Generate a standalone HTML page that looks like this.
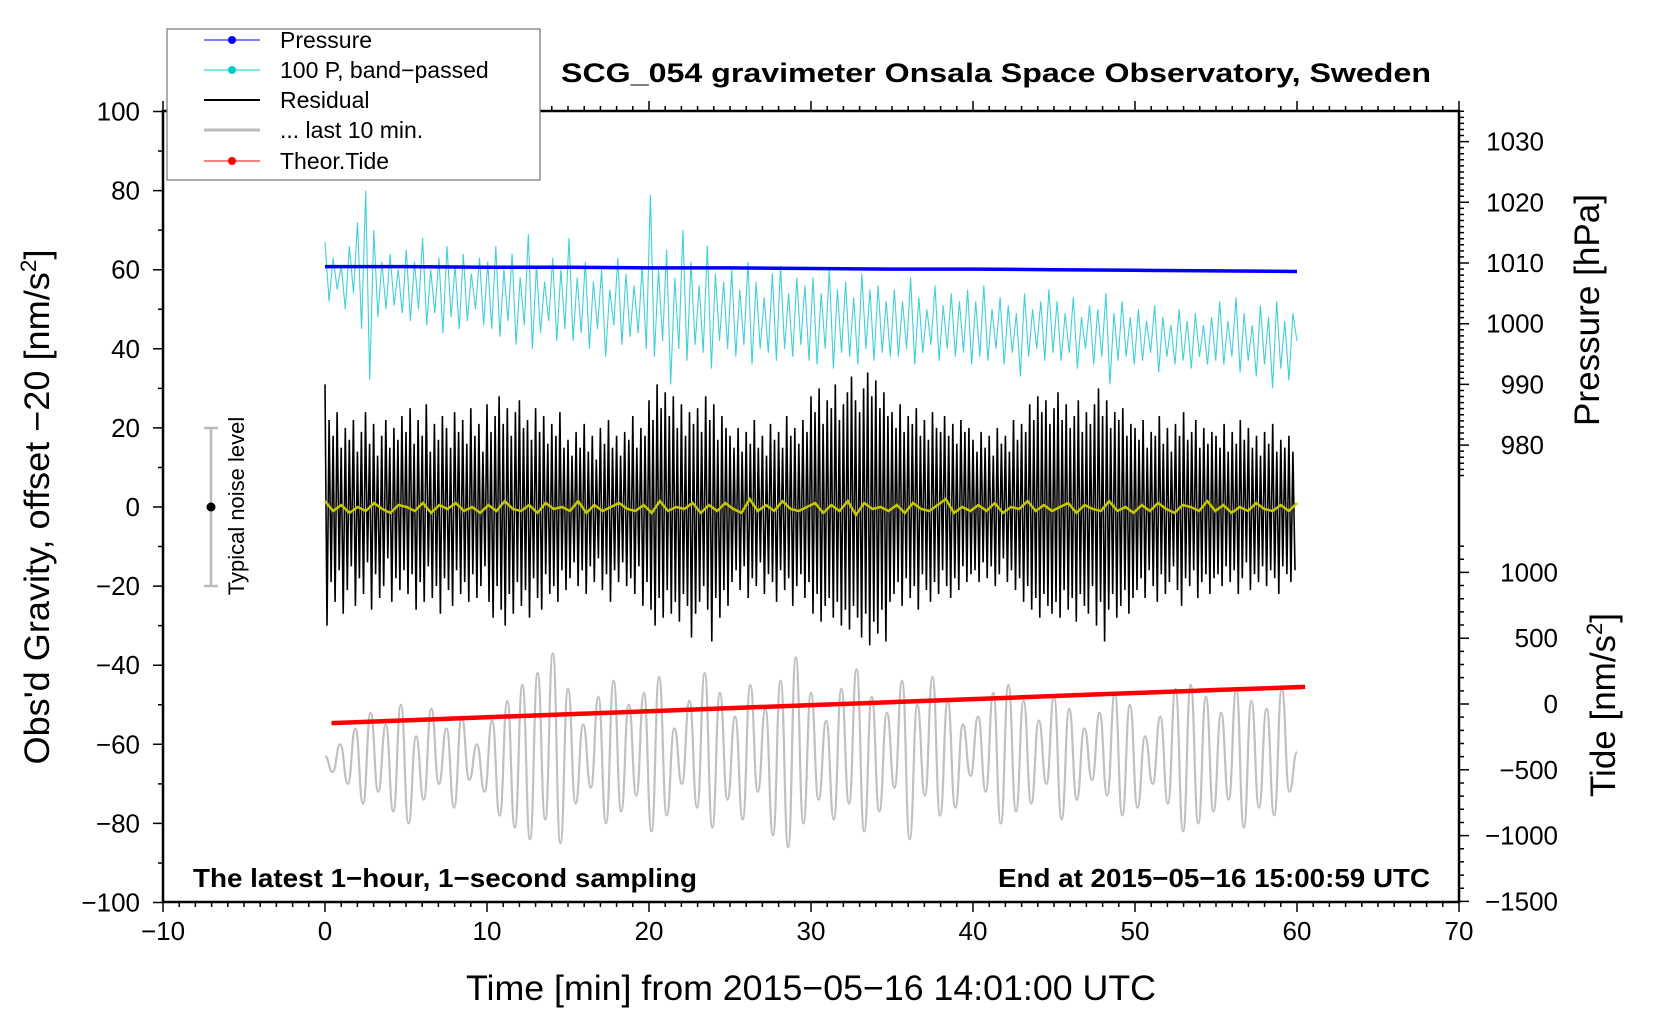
<!DOCTYPE html>
<html><head><meta charset="utf-8"><style>
html,body{margin:0;padding:0;background:#fff}
svg{display:block;font-family:"Liberation Sans",Arial,sans-serif}
</style></head><body>
<svg id="chart" width="1660" height="1020" viewBox="0 0 1660 1020" xmlns="http://www.w3.org/2000/svg">
<rect width="1660" height="1020" fill="#fff"/>
<g id="series"></g>
<g id="axes"></g>
<text x="996" y="82" font-size="27" font-weight="bold" text-anchor="middle" textLength="870" lengthAdjust="spacingAndGlyphs">SCG_054 gravimeter Onsala Space Observatory, Sweden</text>
<text x="811" y="1000" font-size="35" text-anchor="middle" textLength="690" lengthAdjust="spacingAndGlyphs">Time [min] from 2015−05−16 14:01:00 UTC</text>
<text transform="translate(49,507) rotate(-90)" font-size="35" text-anchor="middle" textLength="515" lengthAdjust="spacingAndGlyphs">Obs'd Gravity, offset −20 [nm/s<tspan font-size="22" dy="-13">2</tspan><tspan dy="13">]</tspan></text>
<text transform="translate(1599,310) rotate(-90)" font-size="35" text-anchor="middle" textLength="232" lengthAdjust="spacingAndGlyphs">Pressure [hPa]</text>
<text transform="translate(1615,705) rotate(-90)" font-size="35" text-anchor="middle">Tide [nm/s<tspan font-size="22" dy="-13">2</tspan><tspan dy="13">]</tspan></text>
<text x="193" y="887" font-size="26" font-weight="bold" textLength="504" lengthAdjust="spacingAndGlyphs">The latest 1−hour, 1−second sampling</text>
<text x="1430" y="887" font-size="26" font-weight="bold" text-anchor="end" textLength="432" lengthAdjust="spacingAndGlyphs">End at 2015−05−16 15:00:59 UTC</text>
<g>
<line x1="211" y1="428" x2="211" y2="586" stroke="#bbb" stroke-width="2.5"/>
<line x1="204" y1="428" x2="218" y2="428" stroke="#bbb" stroke-width="2.5"/>
<line x1="204" y1="586" x2="218" y2="586" stroke="#bbb" stroke-width="2.5"/>
<circle cx="211" cy="507" r="4.5" fill="#000"/>
<text transform="translate(244,506) rotate(-90)" font-size="22" text-anchor="middle">Typical noise level</text>
</g>
<g>
<rect x="167" y="29" width="373" height="151" fill="#fff" stroke="#808080" stroke-width="1.3"/>
<g><line x1="204" y1="40" x2="260" y2="40" stroke="#00f" stroke-width="1"/><circle cx="232" cy="40" r="4" fill="#00f"/><text x="280" y="48" font-size="23">Pressure</text></g>
<g><line x1="204" y1="70" x2="260" y2="70" stroke="#0cc" stroke-width="1"/><circle cx="232" cy="70" r="4" fill="#0cc"/><text x="280" y="78" font-size="23">100 P, band−passed</text></g>
<g><line x1="204" y1="100" x2="260" y2="100" stroke="#000" stroke-width="2"/><text x="280" y="108" font-size="23">Residual</text></g>
<g><line x1="204" y1="130" x2="260" y2="130" stroke="#bbb" stroke-width="3"/><text x="280" y="138" font-size="23">... last 10 min.</text></g>
<g><line x1="204" y1="161" x2="260" y2="161" stroke="#f00" stroke-width="1"/><circle cx="232" cy="161" r="4" fill="#f00"/><text x="280" y="169" font-size="23">Theor.Tide</text></g>
</g>
</svg>
<script>
const residualMax = [
31,22,18,24,15,20,17,22,14,19,24,16,21,13,18,22,15,20,17,23,
19,25,16,22,18,26,14,21,17,23,20,15,24,19,22,16,25,18,21,14,
26,19,23,28,21,25,18,24,27,20,22,17,25,19,23,16,21,18,24,15,
17,13,19,15,21,14,18,12,20,16,22,15,18,13,19,17,23,15,20,18,
27,22,31,25,29,23,28,20,26,18,24,21,25,19,28,22,26,17,23,20,
18,15,20,14,19,16,22,15,18,13,21,17,19,15,23,18,20,16,22,19,
28,24,30,21,27,25,31,22,26,29,33,27,24,30,34,28,32,25,29,23,
24,20,26,19,23,21,25,18,22,17,24,20,19,23,18,21,16,22,19,20,
17,14,19,15,18,13,20,16,18,14,22,17,21,19,26,22,28,24,27,21,
25,29,22,26,20,23,27,19,24,21,26,30,23,27,20,24,22,25,18,21,
20,17,22,15,19,18,23,16,20,14,21,18,24,17,19,22,15,20,16,19,
18,15,21,14,19,16,22,17,20,15,18,13,19,16,21,14,17,15,18,14];
const residualMin = [
-30,-19,-24,-16,-27,-21,-15,-25,-18,-22,-14,-26,-17,-23,-20,-13,-24,-18,-21,-16,
-22,-17,-26,-19,-24,-15,-23,-20,-27,-18,-21,-25,-16,-22,-19,-24,-17,-23,-20,-15,
-24,-28,-20,-26,-30,-22,-27,-19,-25,-21,-28,-18,-23,-26,-17,-22,-20,-24,-16,-21,
-18,-14,-20,-16,-22,-15,-19,-13,-21,-17,-24,-16,-19,-14,-20,-18,-22,-15,-25,-19,
-26,-30,-23,-28,-21,-27,-24,-29,-22,-25,-33,-27,-24,-20,-26,-34,-23,-28,-21,-25,
-19,-16,-21,-15,-23,-18,-20,-14,-22,-17,-19,-24,-16,-21,-18,-25,-20,-17,-23,-19,
-27,-22,-29,-25,-23,-28,-24,-30,-26,-31,-25,-28,-33,-27,-35,-29,-32,-26,-34,-24,
-22,-19,-25,-18,-23,-20,-26,-17,-21,-24,-19,-22,-16,-20,-23,-18,-21,-15,-19,-17,
-16,-19,-14,-18,-15,-20,-17,-13,-19,-16,-21,-18,-24,-20,-26,-23,-28,-22,-25,-27,
-24,-28,-21,-26,-23,-29,-22,-25,-27,-20,-30,-24,-34,-26,-22,-28,-25,-21,-27,-23,
-21,-18,-23,-16,-20,-24,-17,-22,-19,-15,-21,-25,-18,-20,-16,-23,-19,-17,-22,-18,
-17,-20,-15,-19,-16,-22,-18,-14,-21,-17,-19,-15,-20,-16,-18,-22,-15,-17,-19,-16];
const bandPassed = [
67,52,63,55,61,50,66,54,72,45,80,32,70,48,62,50,64,51,60,49,
65,47,62,50,68,46,60,49,63,44,66,48,61,45,64,47,59,50,63,46,
62,45,66,43,60,47,64,41,58,46,69,40,61,44,57,47,63,42,60,45,
68,42,58,44,62,40,57,45,60,38,55,46,63,41,59,43,56,44,61,40,
79,38,60,42,65,31,58,40,70,37,62,41,56,39,66,35,59,42,57,40,
60,38,55,41,62,36,57,40,53,39,59,37,61,40,54,38,58,41,56,37,
58,36,54,40,60,35,55,39,57,38,53,36,59,40,55,37,56,39,52,38,
55,38,52,40,58,36,53,39,50,41,56,37,51,40,54,38,52,39,55,36,
52,38,56,37,50,40,53,36,51,39,49,33,54,38,50,40,52,37,55,39,
52,37,49,39,53,35,48,40,51,36,50,38,54,31,49,37,52,38,48,36,
50,37,47,39,51,34,48,38,46,36,50,37,47,35,49,38,46,36,48,37,
52,36,47,38,53,34,49,37,46,33,51,36,48,30,52,35,47,32,49,42];
const last10min = [
-63,-67,-60,-70,-56,-75,-52,-72,-55,-77,-50,-80,-58,-74,-51,-70,-56,-76,-53,-69,
-60,-72,-54,-78,-49,-81,-45,-84,-42,-79,-37,-85,-46,-75,-55,-71,-48,-80,-44,-77,
-50,-73,-47,-82,-43,-78,-56,-70,-49,-76,-42,-81,-47,-74,-53,-79,-45,-72,-51,-83,
-44,-86,-38,-80,-47,-74,-54,-79,-46,-75,-41,-82,-48,-77,-52,-71,-44,-84,-50,-73,
-43,-78,-49,-76,-55,-68,-53,-72,-47,-80,-45,-77,-49,-75,-54,-70,-48,-79,-51,-74,
-56,-69,-52,-73,-47,-78,-50,-76,-58,-70,-53,-75,-46,-82,-45,-80,-48,-77,-52,-74,
-46,-81,-49,-76,-51,-78,-46,-72,-62];
const smoothedResidual = [
1.5,-1,0.5,-1.5,0,-1,1,-0.5,-1.5,0.5,0,-1,1,-1.5,0.5,-0.5,1,-1,0,-1.5,
0.5,-1,1.5,-0.5,-1,0.5,-1.5,1,-0.5,0,-1,1.5,-1.5,0.5,-1,0,1,-0.5,-1,0.5,
-1.5,1.5,-1,0,-0.5,1,-1.5,0.5,-1,1,-0.5,-1.5,2,-1,0.5,-1,1.5,-0.5,-1,0,
1,-1.5,0.5,-1,1.5,-2,1,-0.5,0,-1,0.5,-1.5,1,-0.5,-1,0.5,2,-1.5,0,-1,
0.5,-1,1,-1.5,0,-0.5,1.5,-1,0.5,-1,0,1,-1.5,0.5,-0.5,-1,1.5,-1,0,-1.5,
0.5,-1,1,-0.5,-1.5,0.5,0,-1,1.5,-1,0.5,-1.5,0,-1,1,-0.5,-1,0.5,-1,1];
const pressureTimes = [0,5,10,15,20,25,30,35,40,45,50,55,60];
const pressureHPa = [1009.4,1009.4,1009.3,1009.3,1009.2,1009.2,1009.1,1009.0,1009.0,1008.9,1008.8,1008.7,1008.6];
const tideTimes = [0.4,5.4,10.4,15.4,20.4,25.4,30.4,35.4,40.4,45.4,50.4,55.4,60.5];
const tideValues = [-145,-122,-99,-76,-53,-30,-7,16,39,62,85,108,130];
const xTicks = [-10,0,10,20,30,40,50,60,70];
const yTicks = [100,80,60,40,20,0,-20,-40,-60,-80,-100];
const pressureTicks = [1030,1020,1010,1000,990,980];
const tideTicks = [1000,500,0,-500,-1000,-1500];

const NS = 'http://www.w3.org/2000/svg';
const X = t => 325 + t * 16.2;
const Y = v => 507 - v * 3.955;
const YP = p => 263 - (p - 1010) * 6.07;
const YT = v => 704 - v * 0.1316;
const series = document.getElementById('series');
const axes = document.getElementById('axes');
function mk(tag, attrs, parent) {
  const el = document.createElementNS(NS, tag);
  for (const k in attrs) el.setAttribute(k, attrs[k]);
  parent.appendChild(el);
  return el;
}
function pts(arr) { return arr.map(p => p[0].toFixed(1) + ',' + p[1].toFixed(1)).join(' '); }

let cp = bandPassed.map((v, i) => [X(i * 60 / (bandPassed.length - 1)), Y(v)]);
const cyan = mk('polyline', {points: pts(cp), fill: 'none', stroke: '#40d0d8', 'stroke-width': 1.1}, series);



let pp = pressureHPa.map((v, i) => [X(pressureTimes[i]), YP(v)]);
const blue = mk('polyline', {points: pts(pp), fill: 'none', stroke: '#0000ff', 'stroke-width': 3.5}, series);



let rp = [];
const n = residualMax.length;
for (let i = 0; i < n; i++) {
  const t0 = i * 60 / n;
  rp.push([X(t0), Y(residualMax[i])]);
  rp.push([X(t0 + 30 / n), Y(residualMin[i])]);
}
const res = mk('polyline', {points: pts(rp), fill: 'none', stroke: '#000', 'stroke-width': 1.6}, series);



let yp = smoothedResidual.map((v, i) => [X(i * 60 / (smoothedResidual.length - 1)), Y(v)]);
const yel = mk('polyline', {points: pts(yp), fill: 'none', stroke: '#c8c800', 'stroke-width': 2.5}, series);



let gp = last10min.map((v, i) => [X(i * 60 / (last10min.length - 1)), Y(v)]);
let d = 'M' + gp[0][0].toFixed(1) + ',' + gp[0][1].toFixed(1);
for (let i = 1; i < gp.length; i++) {
  const a = gp[i - 1], b = gp[i], mx = (a[0] + b[0]) / 2;
  d += ' C' + mx.toFixed(1) + ',' + a[1].toFixed(1) + ' ' + mx.toFixed(1) + ',' + b[1].toFixed(1) + ' ' + b[0].toFixed(1) + ',' + b[1].toFixed(1);
}
const gray = mk('path', {d: d, fill: 'none', stroke: '#c0c0c0', 'stroke-width': 2.2}, series);



let tp = tideValues.map((v, i) => [X(tideTimes[i]), YT(v)]);
const red = mk('polyline', {points: pts(tp), fill: 'none', stroke: '#ff0000', 'stroke-width': 4.5}, series);



const frame = mk('rect', {x: 163, y: 111, width: 1296, height: 791, fill: 'none', stroke: '#000', 'stroke-width': 2.5}, axes);



let tickD = '';
for (let t = -10; t <= 70; t++) {
  const len = (t % 10 === 0) ? 10 : 5;
  tickD += `M${X(t)},902v${len}M${X(t)},111v${-len}`;
}
for (let v = -100; v <= 100; v += 10) {
  const len = (v % 20 === 0) ? 10 : 5;
  tickD += `M163,${Y(v)}h${-len}`;
}
for (let p = 975; p <= 1035; p++) {
  const len = (p % 10 === 0) ? 10 : 5;
  tickD += `M1459,${YP(p)}h${len}`;
}
for (let v = -1500; v <= 1200; v += 100) {
  const len = (v % 500 === 0) ? 10 : 5;
  tickD += `M1459,${YT(v)}h${len}`;
}
const ticks = mk('path', {d: tickD, stroke: '#000', 'stroke-width': 1.5, fill: 'none'}, axes);



function label(x, y, txt, anchor, name) {
  const el = mk('text', {x: x, y: y, 'font-size': 26, 'text-anchor': anchor}, axes);
  el.textContent = txt;
  
  
}
const fmt = v => String(v).replace('-', '\u2212');
xTicks.forEach(t => label(X(t), 940, fmt(t), 'middle', 'x-tick-label'));
yTicks.forEach(v => label(140, Y(v) + 9, fmt(v), 'end', 'y-tick-label'));
pressureTicks.forEach(p => label(1544, YP(p) + 9, fmt(p), 'end', 'pressure-tick-label'));
tideTicks.forEach(v => label(1558, YT(v) + 9, fmt(v), 'end', 'tide-tick-label'));
</script>
</body></html>
